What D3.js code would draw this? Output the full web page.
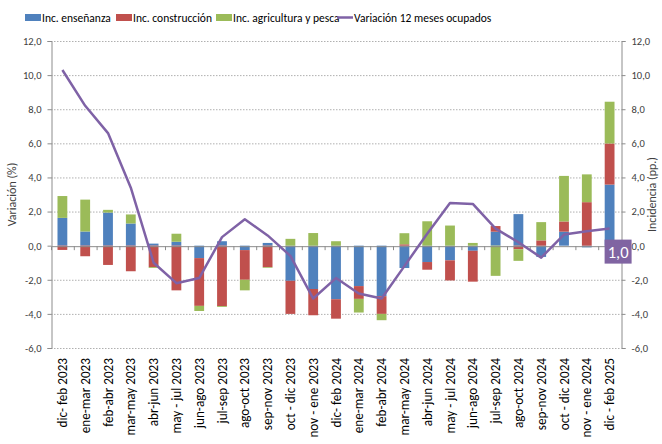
<!DOCTYPE html>
<html>
<head>
<meta charset="utf-8">
<script src="https://cdn.jsdelivr.net/npm/d3@7"></script>
<style>
  body { margin: 0; background: #fff; }
  svg { display: block; font-family: Carlito, Calibri, "Liberation Sans Narrow", "DejaVu Sans Condensed", "Open Sans", sans-serif; }
</style>
</head>
<body>
<div class="container"></div>
<script>
const WIDTH = 662;
const HEIGHT = 444;
const LEFT = 51, RIGHT = 621, TOP = 41, BOTTOM = 348;

// periods (x categories)
var periods = ["dic- feb 2023", "ene-mar 2023", "feb-abr 2023", "mar-may 2023", "abr-jun 2023",
    "may - jul 2023", "jun-ago 2023", "jul-sep 2023", "ago-oct 2023", "sep-nov 2023",
    "oct - dic 2023", "nov - ene 2023", "dic- feb 2024", "ene-mar 2024", "feb-abr 2024",
    "mar-may 2024", "abr-jun 2024", "may - jul 2024", "jun-ago 2024", "jul-sep 2024",
    "ago-oct 2024", "sep-nov 2024", "oct - dic 2024", "nov - ene 2024", "dic - feb 2025"];

// incidences (pp.)
var ensenanza = [1.63, 0.83, 1.94, 1.30, 0.12, 0.23, -0.73, 0.26, -0.26, 0.16, -2.06, -2.54, -3.14,
    -2.37, -2.96, -1.31, -0.96, -0.86, -0.30, 0.82, 1.85, -0.66, 0.82, -0.10, 3.58];
var construccion = [-0.25, -0.62, -1.13, -1.50, -1.26, -2.62, -2.80, -3.54, -1.74, -1.26, -1.94, -1.54, -1.14,
    -0.75, -1.04, 0.08, -0.45, -1.18, -1.81, 0.33, -0.21, 0.31, 0.60, 2.55, 2.41];
var agricultura = [1.28, 1.87, 0.16, 0.53, -0.05, 0.47, -0.30, -0.05, -0.62, -0.04, 0.40, 0.74, 0.26,
    -0.80, -0.37, 0.65, 1.43, 1.18, 0.16, -1.77, -0.68, 1.07, 2.67, 1.63, 2.45];

// 12-month change in employed (%)
var variacion = [10.3, 8.2, 6.6, 3.4, -1.0, -2.2, -1.9, 0.5, 1.55, 0.6, -0.6, -3.1, -1.9,
    -2.8, -3.1, -1.2, 0.7, 2.5, 2.45, 1.0, 0.2, -0.7, 0.65, 0.85, 1.0];

var yTicks = [-6, -4, -2, 0, 2, 4, 6, 8, 10, 12];

var seriesNames = ["Inc. enseñanza", "Inc. construcción", "Inc. agricultura y pesca"];
var seriesColors = ["#4F81BD", "#C0504D", "#9BBB59"];
var lineName = "Variación 12 meses ocupados";
var lineColor = "#7F62A6";

var locale = d3.formatLocale({ decimal: ",", thousands: ".", grouping: [3], currency: ["", "€"], minus: "-" });
var fmt = locale.format(".1f");

var svg = d3.select(".container")
    .append("svg")
    .attr("width", WIDTH)
    .attr("height", HEIGHT);

var xScale = d3.scaleBand()
    .domain(periods)
    .range([LEFT, RIGHT])
    .paddingInner(0.57)
    .paddingOuter(0.285);

var yScale = d3.scaleLinear()
    .domain([-6, 12])
    .range([BOTTOM, TOP]);

// gridlines
svg.append("g")
    .selectAll("line")
    .data(yTicks.filter(function (d) { return d !== 0; }))
    .join("line")
    .attr("x1", LEFT)
    .attr("x2", RIGHT)
    .attr("y1", function (d) { return yScale(d) + 0.5; })
    .attr("y2", function (d) { return yScale(d) + 0.5; })
    .attr("stroke", "#b0b0b0")
    .attr("stroke-dasharray", "1.5,1.5");

// stacked bars
var table = periods.map(function (p, i) {
    return { period: p, a: ensenanza[i], b: construccion[i], c: agricultura[i] };
});
var stack = d3.stack().keys(["a", "b", "c"]).offset(d3.stackOffsetDiverging);
var stacked = stack(table);

svg.append("g")
    .selectAll("g")
    .data(stacked)
    .join("g")
    .attr("fill", function (d, i) { return seriesColors[i]; })
    .selectAll("rect")
    .data(function (d) { return d; })
    .join("rect")
    .attr("x", function (d) { return xScale(d.data.period); })
    .attr("width", xScale.bandwidth())
    .attr("y", function (d) { return yScale(Math.max(d[0], d[1])); })
    .attr("height", function (d) { return Math.abs(yScale(d[0]) - yScale(d[1])); });

// category axis on zero
var idx = d3.scaleLinear().domain([0, periods.length]).range([LEFT, RIGHT]);
svg.append("g")
    .attr("transform", "translate(0," + (yScale(0) + 0.5) + ")")
    .call(d3.axisBottom(idx).tickValues(d3.range(1, periods.length)).tickSize(4).tickFormat(""))
    .call(function (g) {
        g.select(".domain").attr("stroke", "#8c8c8c");
        g.selectAll(".tick line").attr("stroke", "#8c8c8c");
    });

// line
var line = d3.line()
    .x(function (d, i) { return xScale(periods[i]) + xScale.bandwidth() / 2; })
    .y(function (d) { return yScale(d); });

svg.append("path")
    .datum(variacion)
    .attr("fill", "none")
    .attr("stroke", lineColor)
    .attr("stroke-width", 2.5)
    .attr("stroke-linejoin", "round")
    .attr("d", line);

// left axis
svg.append("g")
    .attr("transform", "translate(" + (LEFT + 0.5) + ",0)")
    .call(d3.axisLeft(yScale).tickValues(yTicks).tickSize(4).tickPadding(6).tickFormat(fmt))
    .call(function (g) {
        g.select(".domain").attr("stroke", "#8c8c8c");
        g.selectAll(".tick line").attr("stroke", "#8c8c8c");
        g.selectAll("text").attr("font-size", 10.5).attr("fill", "#404040");
    });

// right axis
svg.append("g")
    .attr("transform", "translate(" + (RIGHT + 0.5) + ",0)")
    .call(d3.axisRight(yScale).tickValues(yTicks).tickSize(4).tickPadding(6).tickFormat(fmt))
    .call(function (g) {
        g.select(".domain").attr("stroke", "#8c8c8c");
        g.selectAll(".tick line").attr("stroke", "#8c8c8c");
        g.selectAll("text").attr("font-size", 10.5).attr("fill", "#404040");
    });
svg.selectAll(".tick").each(function () { d3.select(this.parentNode).attr("font-family", null); });

// x labels
svg.append("g")
    .selectAll("text")
    .data(periods)
    .join("text")
    .attr("transform", function (d) {
        return "translate(" + (xScale(d) + xScale.bandwidth() / 2 + 4.5) + ",358) rotate(-90)";
    })
    .attr("text-anchor", "end")
    .attr("font-size", 13.2)
    .attr("fill", "#000")
    .text(function (d) { return d; });

// axis titles
svg.append("text")
    .attr("transform", "translate(16," + ((TOP + BOTTOM) / 2) + ") rotate(-90)")
    .attr("text-anchor", "middle")
    .attr("font-size", 12)
    .attr("fill", "#404040")
    .text("Variación (%)");

svg.append("text")
    .attr("transform", "translate(656," + ((TOP + BOTTOM) / 2) + ") rotate(-90)")
    .attr("text-anchor", "middle")
    .attr("font-size", 12)
    .attr("fill", "#404040")
    .text("Incidencia (pp.)");

// data label for last point
var last = variacion.length - 1;
var lx = xScale(periods[last]) + xScale.bandwidth() / 2;
var ly = yScale(variacion[last]);
var lab = svg.append("g").attr("transform", "translate(" + (lx - 5) + "," + (ly + 11) + ")");
lab.append("rect")
    .attr("width", 27)
    .attr("height", 24)
    .attr("fill", "#8064A2");
lab.append("text")
    .attr("x", 13.5)
    .attr("y", 18)
    .attr("text-anchor", "middle")
    .attr("font-size", 16.5)
    .attr("fill", "#fff")
    .text(fmt(variacion[last]));

// legend
var legendX = [25, 116, 216];
var legend = svg.append("g");
seriesNames.forEach(function (name, i) {
    legend.append("rect")
        .attr("x", legendX[i])
        .attr("y", 14)
        .attr("width", 16)
        .attr("height", 7)
        .attr("fill", seriesColors[i]);
    legend.append("text")
        .attr("x", legendX[i] + 17)
        .attr("y", 21.5)
        .attr("font-size", 11.5)
        .attr("fill", "#000")
        .text(name);
});
legend.append("line")
    .attr("x1", 337)
    .attr("x2", 353)
    .attr("y1", 17.5)
    .attr("y2", 17.5)
    .attr("stroke", lineColor)
    .attr("stroke-width", 2.5);
legend.append("text")
    .attr("x", 354)
    .attr("y", 21.5)
    .attr("font-size", 11.5)
    .attr("fill", "#000")
    .text(lineName);
</script>
</body>
</html>
